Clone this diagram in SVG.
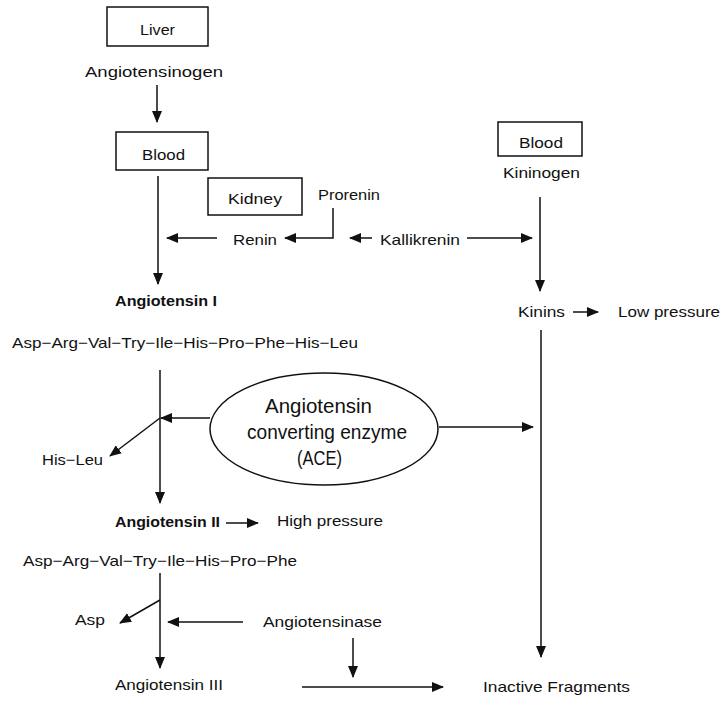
<svg xmlns="http://www.w3.org/2000/svg" width="724" height="701" viewBox="0 0 724 701">
<defs>
<marker id="ah" markerWidth="12" markerHeight="10" refX="11" refY="5" orient="auto" markerUnits="userSpaceOnUse">
<path d="M0,0 L12,5 L0,10 Z" fill="#111"/>
</marker>
<style>
text{font-family:"Liberation Sans",Arial,sans-serif;font-size:15px;fill:#111}
.b{font-weight:bold}
.e{font-size:21px}
.box{fill:#fff;stroke:#111;stroke-width:1.5}
.c{fill:none;stroke:#111;stroke-width:1.5}
.a{marker-end:url(#ah)}
</style>
</defs>
<rect width="724" height="701" fill="#fff"/>

<g id="liver"><rect class="box" x="107" y="7" width="101" height="39"/><text x="140" y="35" textLength="35" lengthAdjust="spacingAndGlyphs">Liver</text></g>
<g id="angiotensinogen"><text x="85" y="77" textLength="138" lengthAdjust="spacingAndGlyphs">Angiotensinogen</text></g>
<g id="blood1"><rect class="box" x="116" y="132" width="92" height="38"/><text x="142" y="160" textLength="43" lengthAdjust="spacingAndGlyphs">Blood</text></g>
<g id="kidney"><rect class="box" x="208" y="178" width="94" height="37"/><text x="228" y="204" textLength="54" lengthAdjust="spacingAndGlyphs">Kidney</text></g>
<g id="prorenin"><text x="318" y="200" textLength="62" lengthAdjust="spacingAndGlyphs">Prorenin</text></g>
<g id="renin"><text x="233" y="245" textLength="44" lengthAdjust="spacingAndGlyphs">Renin</text></g>
<g id="kallikrenin"><text x="380" y="245" textLength="80" lengthAdjust="spacingAndGlyphs">Kallikrenin</text></g>
<g id="blood2"><rect class="box" x="498" y="122" width="84" height="34"/><text x="519" y="148" textLength="44" lengthAdjust="spacingAndGlyphs">Blood</text></g>
<g id="kininogen"><text x="503" y="178" textLength="77" lengthAdjust="spacingAndGlyphs">Kininogen</text></g>
<g id="kinins"><text x="518" y="317" textLength="47" lengthAdjust="spacingAndGlyphs">Kinins</text></g>
<g id="lowpressure"><text x="618" y="317" textLength="102" lengthAdjust="spacingAndGlyphs">Low pressure</text></g>
<g id="angI"><text class="b" x="115" y="306" textLength="102" lengthAdjust="spacingAndGlyphs">Angiotensin I</text></g>
<g id="seq1"><text x="12" y="348" textLength="346" lengthAdjust="spacingAndGlyphs">Asp−Arg−Val−Try−Ile−His−Pro−Phe−His−Leu</text></g>
<g id="ace"><ellipse class="c" cx="324" cy="429" rx="114" ry="56"/>
<text class="e" x="265" y="413" textLength="107" lengthAdjust="spacingAndGlyphs">Angiotensin</text>
<text class="e" x="247" y="439" textLength="160" lengthAdjust="spacingAndGlyphs">converting enzyme</text>
<text class="e" x="297" y="465" textLength="45" lengthAdjust="spacingAndGlyphs">(ACE)</text></g>
<g id="hisleu"><text x="42" y="465" textLength="61" lengthAdjust="spacingAndGlyphs">His−Leu</text></g>
<g id="angII"><text class="b" x="115" y="527" textLength="105" lengthAdjust="spacingAndGlyphs">Angiotensin II</text></g>
<g id="highpressure"><text x="277" y="526" textLength="106" lengthAdjust="spacingAndGlyphs">High pressure</text></g>
<g id="seq2"><text x="23" y="566" textLength="274" lengthAdjust="spacingAndGlyphs">Asp−Arg−Val−Try−Ile−His−Pro−Phe</text></g>
<g id="asp"><text x="75" y="625" textLength="30" lengthAdjust="spacingAndGlyphs">Asp</text></g>
<g id="angiotensinase"><text x="263" y="627" textLength="119" lengthAdjust="spacingAndGlyphs">Angiotensinase</text></g>
<g id="angIII"><text x="115" y="690" textLength="108" lengthAdjust="spacingAndGlyphs">Angiotensin III</text></g>
<g id="inactive"><text x="483" y="692" textLength="147" lengthAdjust="spacingAndGlyphs">Inactive Fragments</text></g>

<g id="connectors">
<line class="c a" x1="157" y1="85" x2="157" y2="122"/>
<line class="c a" x1="158" y1="176" x2="158" y2="284"/>
<polyline class="c a" points="333,208 333,238 285,238"/>
<line class="c a" x1="217" y1="238" x2="167" y2="238"/>
<line class="c a" x1="372" y1="238" x2="350" y2="238"/>
<line class="c a" x1="467" y1="238" x2="532" y2="238"/>
<line class="c a" x1="540" y1="197" x2="540" y2="291"/>
<line class="c a" x1="573" y1="312" x2="598" y2="312"/>
<line class="c a" x1="160" y1="370" x2="160" y2="503"/>
<line class="c a" x1="210" y1="418" x2="161" y2="418"/>
<line class="c a" x1="160" y1="418" x2="110" y2="456"/>
<line class="c a" x1="439" y1="427" x2="533" y2="427"/>
<line class="c a" x1="541" y1="330" x2="541" y2="657"/>
<line class="c a" x1="226" y1="523" x2="258" y2="523"/>
<line class="c a" x1="160" y1="573" x2="160" y2="668"/>
<line class="c a" x1="160" y1="600" x2="120" y2="623"/>
<line class="c a" x1="243" y1="622" x2="168" y2="622"/>
<line class="c a" x1="353" y1="638" x2="353" y2="677"/>
<line class="c a" x1="302" y1="687" x2="443" y2="687"/>
</g>
</svg>
